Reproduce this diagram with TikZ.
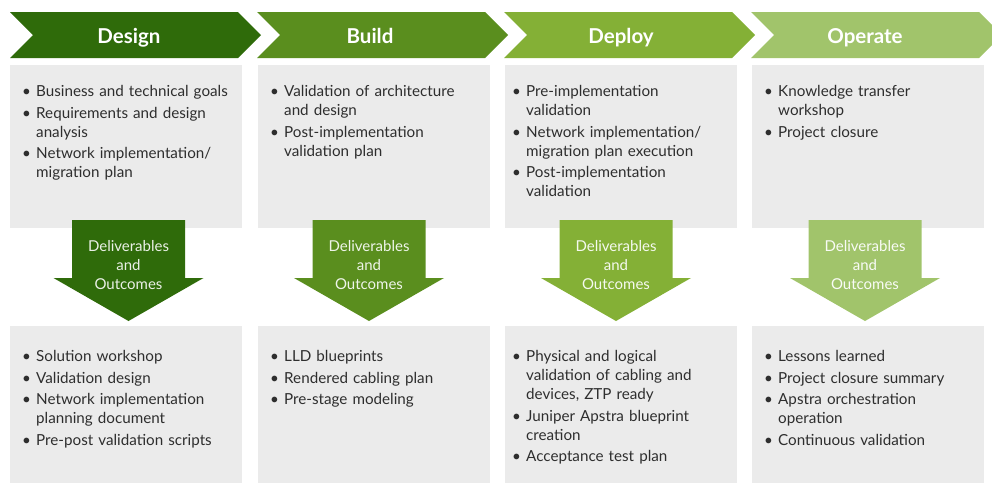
\documentclass[tikz,border=0pt]{standalone}
\usepackage{fontspec}
\setmainfont{Lato}
\definecolor{designgreen}{HTML}{2F6B0A}
\definecolor{buildgreen}{HTML}{5A8E1E}
\definecolor{deploygreen}{HTML}{84B036}
\definecolor{operategreen}{HTML}{A1C46B}
\definecolor{boxgray}{HTML}{EBEBEB}
\definecolor{textgray}{HTML}{2E2E2E}
\newcommand{\bitem}[1]{\par\noindent\hangindent=14pt\hangafter=1\makebox[14pt][l]{\textbullet}#1}
\begin{document}
\begin{tikzpicture}[x=1pt,y=-1pt,
  phasetext/.style={anchor=base,text=white,font=\fontsize{20.5}{24}\selectfont\bfseries},
  outtext/.style={anchor=north,inner sep=0pt,align=center,font=\fontsize{15}{19}\selectfont},
  itemlist/.style={anchor=base west,inner sep=0pt,text width=225pt,align=left,text=textgray,
    font=\fontsize{15.2}{19}\selectfont,execute at begin node={\setlength{\parskip}{2.5pt}}}]
\useasboundingbox (0,0) rectangle (992,483);
\clip (0,0) rectangle (992,483);
% phase chevrons
\fill[designgreen]  (10,12)  -- ++(228,0) -- ++(23,23) -- ++(-23,23) -- ++(-228,0) -- ++(23,-23) -- cycle;
\fill[buildgreen]   (257,12) -- ++(228,0) -- ++(23,23) -- ++(-23,23) -- ++(-228,0) -- ++(23,-23) -- cycle;
\fill[deploygreen]  (504,12) -- ++(228,0) -- ++(23,23) -- ++(-23,23) -- ++(-228,0) -- ++(23,-23) -- cycle;
\fill[operategreen] (751,12) -- ++(228,0) -- ++(23,23) -- ++(-23,23) -- ++(-228,0) -- ++(23,-23) -- cycle;
\node[phasetext] (design)  at (129,43) {Design};
\node[phasetext] (build)   at (370,43) {Build};
\node[phasetext] (deploy)  at (621,43) {Deploy};
\node[phasetext] (operate) at (865,43) {Operate};
% gray panels
\fill[boxgray] (10,65)  rectangle (242,228);
\fill[boxgray] (258,65) rectangle (490,228);
\fill[boxgray] (505,65) rectangle (737,228);
\fill[boxgray] (752,65) rectangle (984,228);
\fill[boxgray] (10,326)  rectangle (242,483);
\fill[boxgray] (258,326) rectangle (490,483);
\fill[boxgray] (505,326) rectangle (737,483);
\fill[boxgray] (752,326) rectangle (984,483);
% down arrows
\fill[designgreen]  (72,220)    -- ++(113,0) -- ++(0,58) -- ++(18.5,0) -- ++(-75,43) -- ++(-75,-43) -- ++(18.5,0) -- cycle;
\fill[buildgreen]   (312.5,220) -- ++(113,0) -- ++(0,58) -- ++(18.5,0) -- ++(-75,43) -- ++(-75,-43) -- ++(18.5,0) -- cycle;
\fill[deploygreen]  (559.5,220) -- ++(113,0) -- ++(0,58) -- ++(18.5,0) -- ++(-75,43) -- ++(-75,-43) -- ++(18.5,0) -- cycle;
\fill[operategreen] (808.5,220) -- ++(113,0) -- ++(0,58) -- ++(18.5,0) -- ++(-75,43) -- ++(-75,-43) -- ++(18.5,0) -- cycle;
\node[outtext,text=white!90!designgreen]  (designout)  at (128.5,240.5) {Deliverables\\and\\Outcomes};
\node[outtext,text=white!90!buildgreen]   (buildout)   at (369,240.5)   {Deliverables\\and\\Outcomes};
\node[outtext,text=white!92!deploygreen]  (deployout)  at (616,240.5)   {Deliverables\\and\\Outcomes};
\node[outtext,text=white!94!operategreen] (operateout) at (865,240.5)   {Deliverables\\and\\Outcomes};
% activities
\node[itemlist] (designtasks) at (22,75) {%
  \bitem{Business and technical goals}
  \bitem{Requirements and design\newline analysis}
  \bitem{Network implementation/\newline migration plan}\par};
\node[itemlist] (buildtasks) at (270,75) {%
  \bitem{Validation of architecture\newline and design}
  \bitem{Post-implementation\newline validation plan}\par};
\node[itemlist] (deploytasks) at (512,75) {%
  \bitem{Pre-implementation\newline validation}
  \bitem{Network implementation/\newline migration plan execution}
  \bitem{Post-implementation\newline validation}\par};
\node[itemlist] (operatetasks) at (764,75) {%
  \bitem{Knowledge transfer\newline workshop}
  \bitem{Project closure}\par};
% deliverables
\node[itemlist] (designdeliv) at (22,340) {%
  \bitem{Solution workshop}
  \bitem{Validation design}
  \bitem{Network implementation\newline planning document}
  \bitem{Pre-post validation scripts}\par};
\node[itemlist] (builddeliv) at (270,340) {%
  \bitem{LLD blueprints}
  \bitem{Rendered cabling plan}
  \bitem{Pre-stage modeling}\par};
\node[itemlist] (deploydeliv) at (512,340) {%
  \bitem{Physical and logical\newline validation of cabling and\newline devices, ZTP ready}
  \bitem{Juniper Apstra blueprint\newline creation}
  \bitem{Acceptance test plan}\par};
\node[itemlist] (operatedeliv) at (764,340) {%
  \bitem{Lessons learned}
  \bitem{Project closure summary}
  \bitem{Apstra orchestration\newline operation}
  \bitem{Continuous validation}\par};
\end{tikzpicture}
\end{document}
